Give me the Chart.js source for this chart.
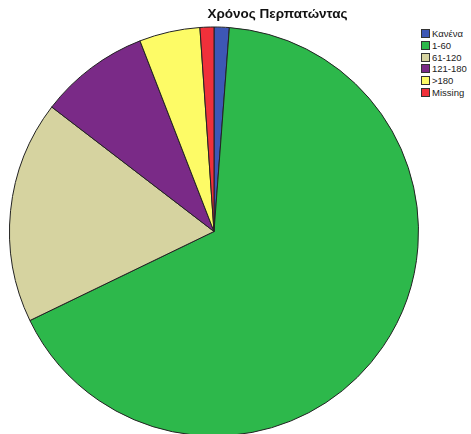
<!DOCTYPE html>
<html>
<head>
<meta charset="utf-8">
<script src="https://cdn.jsdelivr.net/npm/chart.js@4"></script>
<style>
  html, body { margin: 0; padding: 0; background: #fff; overflow: hidden; width: 471px; height: 434px; }
  #wrap { position: relative; width: 471px; height: 434px; }
  #myChart { position: absolute; left: 0; top: 0; }
  #title { position: absolute; left: 160px; width: 235px; top: 6px; text-align: center;
           font: bold 13.5px "Liberation Sans", Arial, sans-serif; color: #111; }
  #legend { position: absolute; left: 421px; top: 28px; font: 9.5px "Liberation Sans", Arial, sans-serif; color: #222; }
  #legend div { height: 11.8px; line-height: 11.8px; white-space: nowrap; }
  #legend span { display: inline-block; width: 7px; height: 7px; border: 1px solid #333; margin-right: 2px; vertical-align: -1px; }
</style>
</head>
<body>
<div id="wrap">
  <canvas id="myChart" width="420" height="440"></canvas>
  <div id="title">Χρόνος Περπατώντας</div>
  <div id="legend"></div>
</div>
<script>
var titleText = "Χρόνος Περπατώντας";
var categories = ["Κανένα", "1-60", "61-120", "121-180", ">180", "Missing"];
var percents = [1.2, 66.7, 17.6, 8.7, 4.8, 1.1];
var sliceColors = ["#3d57b5", "#2db84b", "#d6d3a0", "#7a2a87", "#fdfb66", "#f0303a"];

var legend = document.getElementById("legend");
for (let i = 0; i < categories.length; i++) {
    var row = document.createElement("div");
    var box = document.createElement("span");
    box.style.background = sliceColors[i];
    row.appendChild(box);
    row.appendChild(document.createTextNode(categories[i]));
    legend.appendChild(row);
}

new Chart("myChart", {
    type: "pie",
    data: {
        labels: categories,
        datasets: [{
            data: percents,
            backgroundColor: sliceColors,
            borderColor: "#222",
            borderWidth: 1
        }]
    },
    options: {
        responsive: false,
        animation: false,
        layout: { padding: { left: 9, right: 1, top: 26, bottom: 3 } },
        plugins: {
            legend: { display: false },
            title: { display: false },
            tooltip: { enabled: false }
        }
    }
});
</script>
</body>
</html>
